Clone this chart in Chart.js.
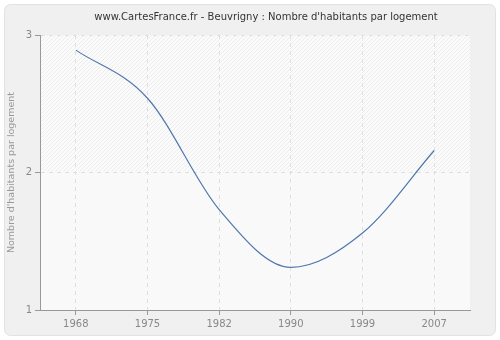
<!DOCTYPE html>
<html>
<head>
<meta charset="utf-8">
<script src="https://cdn.jsdelivr.net/npm/chart.js@4/dist/chart.umd.min.js"></script>
<style>
  html, body { margin: 0; padding: 0; background: #fff; }
  #wrap { width: 500px; height: 340px; }
</style>
</head>
<body>
<div id="wrap"><canvas id="chart" width="500" height="340"></canvas></div>
<script>
const years = ['1968', '1975', '1982', '1990', '1999', '2007'];
const habitantsParLogement = [2.89, 2.54, 1.73, 1.31, 1.56, 2.16];
const yTicks = [1, 2, 3];
const titre = "www.CartesFrance.fr - Beuvrigny : Nombre d'habitants par logement";

// fond gris arrondi + zone hachurée
const backdrop = {
    id: 'backdrop',
    beforeDraw(chart) {
        const ctx = chart.ctx;
        const { left, top, right, bottom } = chart.chartArea;
        ctx.save();
        ctx.fillStyle = '#ffffff';
        ctx.fillRect(0, 0, chart.width, chart.height);
        ctx.beginPath();
        ctx.roundRect(4.5, 4.5, chart.width - 9, chart.height - 9, 6);
        ctx.fillStyle = '#f0f0f0';
        ctx.fill();
        ctx.strokeStyle = '#e2e2e2';
        ctx.stroke();

        ctx.fillStyle = '#fbfbfb';
        ctx.fillRect(left, top, right - left, bottom - top);

        const ySplit = chart.scales.y.getPixelForValue(2);
        const bands = [[top, ySplit, '#ededed'], [ySplit, bottom, '#f4f4f4']];
        bands.forEach(([t, b, col]) => {
            ctx.save();
            ctx.beginPath();
            ctx.rect(left, t, right - left, b - t);
            ctx.clip();
            ctx.strokeStyle = col;
            ctx.lineWidth = 1;
            ctx.beginPath();
            for (let x = left - (b - t); x < right + 5; x += 4) {
                ctx.moveTo(x, b);
                ctx.lineTo(x + (b - t), t);
            }
            ctx.stroke();
            ctx.restore();
        });

        // titre
        ctx.fillStyle = '#333';
        ctx.font = '10px "DejaVu Sans"';
        ctx.textAlign = 'center';
        ctx.textBaseline = 'middle';
        ctx.fillText(titre, 266, 17);
        ctx.restore();
    }
};

new Chart(document.getElementById('chart'), {
    type: 'line',
    data: {
        labels: years,
        datasets: [{
            data: habitantsParLogement,
            borderColor: '#5078ad',
            borderWidth: 1.2,
            pointRadius: 0,
            cubicInterpolationMode: 'monotone',
            fill: false
        }]
    },
    options: {
        responsive: false,
        animation: false,
        layout: { padding: { left: 6, right: 30, top: 35, bottom: 8 } },
        plugins: {
            legend: { display: false },
            tooltip: { enabled: false },
            title: { display: false }
        },
        scales: {
            x: {
                offset: true,
                grid: {
                    color: '#e0e0e0',
                    offset: false,
                    tickColor: '#999',
                    tickLength: 5,
                    tickBorderDash: []
                },
                border: { color: '#999', width: 1, dash: [4, 4] },
                ticks: {
                    color: '#888',
                    font: { family: 'DejaVu Sans', size: 10 },
                    padding: 3,
                    maxRotation: 0
                },
                afterFit(scale) { scale.height = 22; }
            },
            y: {
                min: 1,
                max: 3,
                afterBuildTicks(scale) { scale.ticks = yTicks.map(v => ({ value: v })); },
                grid: {
                    color: '#e0e0e0',
                    tickColor: '#999',
                    tickLength: 5,
                    tickBorderDash: []
                },
                border: { color: '#999', width: 1, dash: [4, 4] },
                ticks: {
                    color: '#888',
                    font: { family: 'DejaVu Sans', size: 10 },
                    padding: 3
                },
                title: {
                    display: true,
                    text: "Nombre d'habitants par logement",
                    color: '#999',
                    font: { family: 'DejaVu Sans', size: 9.5 },
                    padding: { top: 0, bottom: 4 }
                },
                afterFit(scale) { scale.width = 34; }
            }
        }
    },
    plugins: [backdrop]
});
</script>
</body>
</html>
